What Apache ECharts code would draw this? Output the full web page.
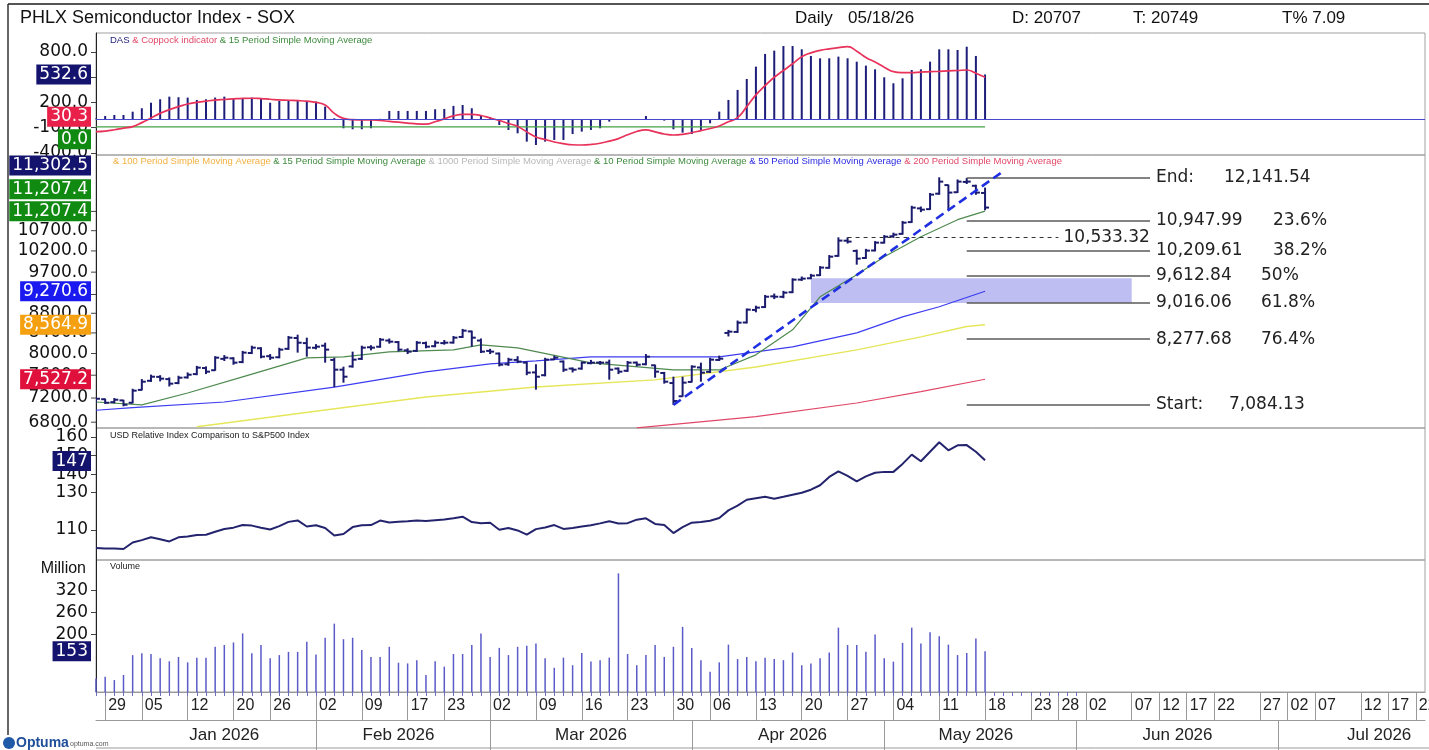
<!DOCTYPE html>
<html>
<head>
<meta charset="utf-8">
<title>PHLX Semiconductor Index - SOX</title>
<script src="https://cdn.jsdelivr.net/npm/echarts@6.0.0/dist/echarts.min.js"></script>
<style>
html, body { margin: 0; padding: 0; background: #fff; }
#main { width: 1429px; height: 750px; }
</style>
</head>
<body>
<div id="main"></div>
<script>
// trading calendar
var holidays = ['2026-01-01', '2026-01-19', '2026-02-16', '2026-04-03'];
// empty future slots on the right, with the date labels Optuma prints there
var futureDays = ['', '', '', '', '23', '', '', '28', '', '', '02', '', '', '', '', '07', '', '', '12', '', '', '17', '', '',
                  '22', '', '', '', '', '27', '', '', '02', '', '', '07', '', '', '', '', '12', '', '', '17', '', '', '22', ''];
var monthNames = ['Jan 2026', 'Feb 2026', 'Mar 2026', 'Apr 2026', 'May 2026', 'Jun 2026', 'Jul 2026'];
var monthMid = [14, 33, 54, 76, 96, 118, 140];
var monthStart = [24, 43, 65, 86, 107, 129];

// price bars
var open = [7150,7180,7130,7160,7120,7340,7500,7570,7530,7460,
  7560,7620,7730,7690,7900,7910,7840,8010,8100,7950,
  7930,8090,8300,8200,8110,8150,7880,7700,7760,7900,
  8120,8130,8250,8220,8060,8050,8200,8140,8200,8210,
  8320,8430,8250,8050,8000,7800,7880,7830,7650,7600,
  7890,7850,7720,7720,7820,7830,7830,7720,7680,7830,
  7800,7780,7640,7460,7230,7480,7740,7660,7880,8400,
  8420,8610,8870,8930,9160,9150,9250,9530,9560,9630,
  9800,10080,10450,10200,10030,10210,10400,10560,10620,10920,
  11280,11260,11680,11920,11720,12010,11900,11700];
var high = [7215,7190,7200,7170,7360,7530,7610,7600,7560,7590,
  7650,7770,7760,7950,7970,7930,8050,8150,8120,7990,
  8110,8340,8365,8306,8180,8208,7922,7755,8036,8150,
  8160,8300,8290,8240,8100,8240,8230,8250,8260,8340,
  8480,8445,8290,8090,8020,7920,7950,7850,7800,7920,
  7960,7870,7740,7850,7880,7860,7885,7740,7860,7850,
  7990,7792,7660,7573,7573,7780,7829,7920,7960,8460,
  8650,8900,8960,9190,9220,9280,9560,9600,9660,9840,
  10100,10533,10533,10231,10250,10440,10590,10650,10950,11350,
  11330,11700,12141.54,11934,12080,12120,11930,11850];
var low = [7120,7100,7110,7060,7110,7330,7480,7490,7400,7440,
  7540,7600,7620,7680,7860,7790,7820,7990,7910,7880,
  7910,8070,8017,7941,8080,7829,7390,7467,7737,7880,
  8060,8110,8190,8040,7990,8030,8100,8120,8170,8190,
  8300,8131,8010,7990,7760,7770,7820,7600,7344,7580,
  7880,7660,7650,7700,7800,7790,7520,7620,7660,7760,
  7780,7555,7450,7084.13,7222,7470,7484,7640,7860,8330,
  8400,8590,8820,8910,9100,9120,9230,9500,9540,9610,
  9780,10060,10380,9873,10010,10190,10380,10520,10600,10900,
  11180,11240,11650,11246,11700,11950,11650,11230];
var close = [7188,7120,7171,7087,7327,7484,7573,7538,7449,7555,
  7609,7737,7664,7922,7922,7829,8017,8112,7941,7922,
  8074,8306,8208,8112,8131,8074,7700,7573,7885,8112,
  8112,8267,8228,8074,8036,8208,8131,8208,8208,8306,
  8445,8306,8036,8036,7792,7885,7848,7646,7573,7885,
  7922,7700,7700,7829,7829,7829,7700,7664,7829,7792,
  7941,7664,7484,7150,7467,7755,7646,7885,7903,8425,
  8606,8876,8918,9152,9152,9240,9529,9552,9620,9805,
  10062,10452,10427,10015,10207,10402,10549,10600,10905,11300,
  11246,11654,12018,11710,12018,12018,11710,11302.5];

// moving averages, read at [day index, value]
var ma15 = [[0,7133],[5,7084],[10,7287],[16,7569],[23,7918],[27,7936],[32,8031],[39,8069],[42,8166],[46,8107],
  [54,7824],[63,7695],[68,7695],[72,7975],[76,8461],[79,9150],[83,9640],[86,10060],[90,10549],[94,10983],[97,11207.4]];
var ma50 = [[0,6995],[4,7038],[14,7133],[26,7390],[36,7659],[43,7806],[48,7861],[54,7936],[68,7936],[76,8127],
  [83,8401],[88,8726],[92,8936],[97,9270.6]];
var ma100 = [[11,6727],[25,6999],[36,7218],[48,7390],[61,7516],[72,7750],[83,8069],[90,8322],[95,8528],[97,8564.9]];
var ma200 = [[59,6710],[72,6889],[83,7116],[90,7309],[97,7527.2]];
var trend = [[63,7084.13],[99,12320]];

// fibonacci retracement
var fibValues = [12141.54, 10947.99, 10209.61, 9612.84, 9016.06, 8277.68, 7084.13];
var fibLeft = ['End:', '10,947.99', '10,209.61', '9,612.84', '9,016.06', '8,277.68', 'Start:'];
var fibRight = ['12,141.54', '23.6%', '38.2%', '50%', '61.8%', '76.4%', '7,084.13'];
var midLevel = 10533.32;

// DAS histogram and Coppock
var das = [10,39,51,51,90,131,197,238,269,262,
  258,230,238,258,269,250,250,258,250,197,
  218,222,230,210,210,151,12,-107,-119,-119,
  -107,5,99,99,99,99,99,119,123,159,
  170,131,40,24,-68,-127,-167,-266,-306,-266,
  -246,-246,-175,-147,-127,-107,-28,0,0,0,
  39,0,-16,-119,-159,-175,-127,-48,91,230,
  349,479,626,777,816,871,871,832,753,725,
  725,745,725,685,638,594,499,428,487,586,
  594,685,832,832,824,863,753,532.6];
var coppock = [-147,-140,-125,-105,-88,-40,15,70,115,150,
  182,200,215,228,235,242,248,250,246,238,
  230,226,222,215,200,170,70,10,-5,-8,
  -8,-15,-25,-35,-45,-55,-58,-30,5,40,
  58,58,45,15,-15,-50,-85,-150,-210,-240,
  -270,-290,-303,-306,-300,-285,-260,-230,-185,-145,
  -127,-150,-175,-187,-180,-160,-135,-110,-80,-30,
  20,150,290,400,500,580,660,744,790,820,
  838,852,863,810,735,680,620,566,555,554,
  560,566,570,575,580,586,547,499];
var dasAvg = [[0,-90],[97,-90]];

// relative strength vs S&P500
var relative = [100.2,100.0,100.0,99.7,103.2,104.5,106.0,105.0,103.8,106.0,
  106.5,107.3,107.4,109.0,110.5,111.2,112.6,112.3,111.2,110.2,
  112.0,114.3,115.1,111.8,112.5,111.0,107.0,107.8,111.5,112.5,
  112.6,115.0,114.0,114.4,114.6,115.0,114.8,115.2,115.6,116.3,
  117.1,114.2,113.6,113.8,110.1,111.0,109.7,107.4,110.4,111.3,
  112.6,110.5,111.0,111.8,112.5,113.5,114.6,113.4,113.6,115.5,
  116.2,113.2,112.6,108.3,111.5,113.9,114.2,114.9,116.4,120.5,
  123.0,126.2,127.0,127.8,126.8,127.8,128.9,130.0,131.6,134.0,
  138.5,141.5,139.0,136.1,138.8,140.7,141.2,141.2,145.5,150.5,
  146.9,152.0,157.1,152.8,155.5,155.6,152.0,147.4];

// volume, million
var volume = [77,82,73,87,142,147,145,133,125,137,
  122,135,135,165,170,177,202,147,170,133,
  142,151,151,179,144,190,229,186,190,156,
  137,137,165,121,119,128,87,125,110,145,
  145,170,202,137,162,142,165,168,174,133,
  107,135,114,148,124,128,135,368,145,114,
  142,170,137,165,220,162,128,96,122,171,
  131,137,125,135,131,128,149,114,119,133,
  149,218,170,170,151,199,133,124,176,218,
  174,205,194,171,142,148,188,153];

var priceTicks = [6800, 7200, 7600, 8000, 8400, 8800, 9200, 9700, 10200, 10700, 11200];

var NUM = 'DejaVu Sans';
var TXT = 'Liberation Sans';

function tradingDays(start, end, skip) {
  var out = [];
  var d = new Date(start + 'T00:00:00Z');
  var e = new Date(end + 'T00:00:00Z');
  while (d <= e) {
    var wd = d.getUTCDay();
    var s = d.toISOString().slice(0, 10);
    if (wd !== 0 && wd !== 6 && skip.indexOf(s) < 0) out.push(s);
    d.setUTCDate(d.getUTCDate() + 1);
  }
  return out;
}
var dates = tradingDays('2025-12-26', '2026-05-18', holidays);
var cats = dates.concat(futureDays.map(function (s, k) { return 'f' + k; }));

function weekday(i) { return new Date(dates[i] + 'T00:00:00Z').getUTCDay(); }
function isDayTick(i) {
  if (i < dates.length) return i > 0 && weekday(i) < weekday(i - 1);
  return futureDays[i - dates.length] !== '';
}
function dayText(i) { return i < dates.length ? dates[i].slice(8) : futureDays[i - dates.length]; }

var ohlc = close.map(function (c, i) { return [i, open[i], high[i], low[i], c]; });

function renderOhlc(params, api) {
  var i = api.value(0);
  var pO = api.coord([i, api.value(1)]);
  var pH = api.coord([i, api.value(2)]);
  var pL = api.coord([i, api.value(3)]);
  var pC = api.coord([i, api.value(4)]);
  var x = pO[0];
  var st = { stroke: '#1b1b6e', lineWidth: 2 };
  return {
    type: 'group',
    children: [
      { type: 'line', shape: { x1: x, y1: pH[1], x2: x, y2: pL[1] }, style: st },
      { type: 'line', shape: { x1: x - 4, y1: pO[1], x2: x, y2: pO[1] }, style: st },
      { type: 'line', shape: { x1: x, y1: pC[1], x2: x + 4, y2: pC[1] }, style: st }
    ]
  };
}

function baseX(grid, extra) {
  var a = {
    type: 'category', gridIndex: grid, data: cats, boundaryGap: false,
    axisLine: { show: false }, axisTick: { show: false }, axisLabel: { show: false }, splitLine: { show: false }
  };
  for (var k in extra) a[k] = extra[k];
  return a;
}

function valY(grid, min, max, ticks, dec) {
  return {
    type: 'value', gridIndex: grid, min: min, max: max,
    axisLine: { show: true, lineStyle: { color: '#222' } },
    axisTick: { show: true, customValues: ticks, length: 5, lineStyle: { color: '#444' } },
    axisLabel: {
      customValues: ticks, fontFamily: NUM, fontSize: 17, color: '#111', margin: 8,
      formatter: function (v) { return Number(v).toFixed(dec); }
    },
    splitLine: { show: false }
  };
}

var grids = [
  { top: 33, height: 122 },
  { top: 155, height: 273 },
  { top: 428, height: 132 },
  { top: 560, height: 132 }
].map(function (g) {
  g.left = 96; g.right = 4; g.show = true; g.borderColor = '#a0a0a0'; g.borderWidth = 1;
  g.containLabel = false; g.outerBoundsMode = 'none';
  return g;
});

var fibRich = { v: { fontFamily: NUM, fontSize: 17, color: '#222' } };
var fibWidth = [68, 117, 117, 105, 105, 105, 73];
fibWidth.forEach(function (w, i) { fibRich['k' + i] = { width: w, fontFamily: NUM, fontSize: 17, color: '#222' }; });

var option = {
  animation: false,
  backgroundColor: '#fff',
  grid: grids,
  xAxis: [
    baseX(0, {}),
    baseX(1, {}),
    baseX(2, {}),
    baseX(3, {
      position: 'bottom',
      axisLine: { show: true, lineStyle: { color: '#999' } },
      axisTick: { show: true, interval: function (i) { return isDayTick(i); }, length: 28, lineStyle: { color: '#999' } },
      axisLabel: {
        show: true, interval: function (i) { return isDayTick(i); },
        formatter: function (v, i) { return dayText(i); },
        align: 'left', padding: [0, 0, 0, 3], margin: 6,
        fontFamily: TXT, fontSize: 16, color: '#222'
      }
    }),
    baseX(3, {
      position: 'bottom', offset: 28,
      axisLine: { show: true, lineStyle: { color: '#999' } },
      axisTick: { show: true, interval: function (i) { return monthStart.indexOf(i) >= 0; }, length: 30, lineStyle: { color: '#999' } },
      axisLabel: {
        show: true, interval: function (i) { return monthMid.indexOf(i) >= 0; },
        formatter: function (v, i) { return monthNames[monthMid.indexOf(i)]; },
        margin: 7, fontFamily: TXT, fontSize: 17, color: '#222'
      }
    }),
    baseX(3, {
      position: 'bottom', offset: 0,
      axisTick: { show: true, interval: function (i) { return i < 108; }, length: 4, lineStyle: { color: '#7070b8' } }
    })
  ],
  yAxis: [
    valY(0, -425, 1026, [-400, -100, 200, 500, 800], 1),
    {
      type: 'log', gridIndex: 1, min: 6707, max: 12800,
      axisLine: { show: true, lineStyle: { color: '#222' } },
      axisTick: { show: false }, axisLabel: { show: false }, splitLine: { show: false }
    },
    valY(2, 93.8, 164.8, [110, 130, 140, 150, 160], 0),
    valY(3, 40, 405, [200, 260, 320], 0)
  ],
  series: [
    {
      type: 'bar', xAxisIndex: 0, yAxisIndex: 0, data: das, barWidth: 2,
      itemStyle: { color: '#1d1d7a' },
      markLine: {
        silent: true, symbol: ['none', 'none'], label: { show: false },
        lineStyle: { color: '#4a4ad0', width: 1.2, type: 'solid' },
        data: [{ yAxis: 0 }]
      }
    },
    {
      type: 'line', xAxisIndex: 0, yAxisIndex: 0, data: dasAvg, symbol: 'none',
      lineStyle: { color: '#44a044', width: 1.3 }
    },
    {
      type: 'line', xAxisIndex: 0, yAxisIndex: 0, data: coppock, symbol: 'none', smooth: true,
      lineStyle: { color: '#e8325a', width: 1.7 }
    },
    {
      type: 'line', xAxisIndex: 1, yAxisIndex: 1, data: ma200, symbol: 'none', z: 3,
      lineStyle: { color: '#e04868', width: 1.2 },
      markLine: {
        silent: true, symbol: ['none', 'none'],
        lineStyle: { color: '#5a5a5a', width: 1.5, type: 'solid' },
        label: {
          show: true, position: 'end', distance: 6, rich: fibRich,
          formatter: function (p) { return '{k' + p.dataIndex + '|' + fibLeft[p.dataIndex] + '}{v|' + fibRight[p.dataIndex] + '}'; }
        },
        data: fibValues.map(function (v) { return [{ coord: [95, v] }, { coord: [115, v] }]; })
      }
    },
    {
      type: 'line', xAxisIndex: 1, yAxisIndex: 1, data: ma100, symbol: 'none', z: 3,
      lineStyle: { color: '#e6e65a', width: 1.4 }
    },
    {
      type: 'line', xAxisIndex: 1, yAxisIndex: 1, data: ma50, symbol: 'none', z: 3,
      lineStyle: { color: '#3c3cf0', width: 1.2 },
      markArea: {
        silent: true, itemStyle: { color: 'rgba(125,125,232,0.5)' },
        data: [[{ coord: [78, 9560] }, { coord: [113, 9016.06] }]]
      }
    },
    {
      type: 'line', xAxisIndex: 1, yAxisIndex: 1, data: ma15, symbol: 'none', z: 3,
      lineStyle: { color: '#4f8a4f', width: 1.2 }
    },
    {
      type: 'custom', xAxisIndex: 1, yAxisIndex: 1, data: ohlc, clip: true, z: 4,
      encode: { x: 0, y: [1, 2, 3, 4] }, renderItem: renderOhlc
    },
    {
      type: 'line', xAxisIndex: 1, yAxisIndex: 1, data: trend, symbol: 'none', z: 5,
      lineStyle: { color: '#2030e0', width: 2.6, type: [9, 5] },
      markLine: {
        silent: true, symbol: ['none', 'none'],
        lineStyle: { color: '#333', width: 1, type: [4, 4] },
        label: { show: true, position: 'end', distance: 5, fontFamily: NUM, fontSize: 17, color: '#222', formatter: '10,533.32' },
        data: [[{ coord: [82, midLevel] }, { coord: [105, midLevel] }]]
      }
    },
    {
      type: 'line', xAxisIndex: 2, yAxisIndex: 2, data: relative, symbol: 'none',
      lineStyle: { color: '#24246e', width: 2 }
    },
    {
      type: 'bar', xAxisIndex: 3, yAxisIndex: 3, data: volume, barWidth: 1.5,
      itemStyle: { color: '#5a5ac8' }
    }
  ]
};

var chart = echarts.init(document.getElementById('main'));
chart.setOption(option);

function txt(x, y, text, size, color, extra) {
  var st = { text: text, fontSize: size, fontFamily: TXT, fill: color || '#111', verticalAlign: 'middle' };
  for (var k in extra) st[k] = extra[k];
  return { type: 'text', x: x, y: y, z: 50, style: st };
}
function ln(x1, y1, x2, y2, color, w) {
  return { type: 'line', z: 50, shape: { x1: x1, y1: y1, x2: x2, y2: y2 }, style: { stroke: color, lineWidth: w } };
}

var legendRich = {
  o: { fill: '#f0b040', fontSize: 9.5, fontFamily: TXT },
  g: { fill: '#3c8a3c', fontSize: 9.5, fontFamily: TXT },
  s: { fill: '#b8b8b8', fontSize: 9.5, fontFamily: TXT },
  b: { fill: '#2a2ae0', fontSize: 9.5, fontFamily: TXT },
  r: { fill: '#e04868', fontSize: 9.5, fontFamily: TXT },
  n: { fill: '#1d1d7a', fontSize: 9.5, fontFamily: TXT }
};

var graphics = [
  ln(8, 4, 1429, 4, '#555', 2),
  ln(8, 4, 8, 735, '#333', 1.5),
  ln(96, 748, 1429, 748, '#999', 1),
  txt(20, 18, 'PHLX Semiconductor Index - SOX', 18),
  txt(795, 18, 'Daily', 17),
  txt(848, 18, '05/18/26', 17),
  txt(1012, 18, 'D: 20707', 17),
  txt(1133, 18, 'T: 20749', 17),
  txt(1282, 18, 'T% 7.09', 17),
  txt(110, 40, '', 9.5, '#111', {
    text: '{n|DAS }{r|& Coppock indicator }{g|& 15 Period Simple Moving Average}', rich: legendRich
  }),
  txt(113, 161, '', 9.5, '#111', {
    text: '{o|& 100 Period Simple Moving Average }{g|& 15 Period Simple Moving Average }{s|& 1000 Period Simple Moving Average }' +
      '{g|& 10 Period Simple Moving Average }{b|& 50 Period Simple Moving Average }{r|& 200 Period Simple Moving Average}',
    rich: legendRich
  }),
  txt(110, 436, 'USD Relative Index Comparison to S&P500 Index', 9, '#222'),
  txt(110, 567, 'Volume', 9, '#222'),
  txt(86, 569, 'Million', 16, '#111', { align: 'right' }),
  { type: 'circle', z: 50, shape: { cx: 9, cy: 743, r: 6 }, style: { fill: '#1f5aa8' } },
  txt(16, 743, 'Optuma', 14, '#1f4e9a', { fontWeight: 'bold' }),
  txt(70, 744, 'optuma.com', 7, '#555')
];

// price axis labels on the log scale
priceTicks.forEach(function (v) {
  var y = chart.convertToPixel({ yAxisIndex: 1 }, v);
  graphics.push({ type: 'text', x: 88, y: y, z: 40, style: { text: v.toFixed(1), fontSize: 17, fontFamily: NUM, fill: '#111', align: 'right', verticalAlign: 'middle' } });
  graphics.push(ln(91, y, 96, y, '#444', 1));
});

// value tags on the left
var tags = [
  { axis: 0, value: 532.6, text: '532.6', color: '#14146e', dy: 0 },
  { axis: 0, value: 30.3, text: '30.3', color: '#e8204a', dy: 0 },
  { axis: 0, value: 0, text: '0.0', color: '#118a11', dy: 20 },
  { axis: 1, value: 11302.5, text: '11,302.5', color: '#14146e', dy: -42 },
  { axis: 1, value: 11207.4, text: '11,207.4', color: '#118a11', dy: -22 },
  { axis: 1, value: 11207.4, text: '11,207.4', color: '#118a11', dy: 0 },
  { axis: 1, value: 9270.6, text: '9,270.6', color: '#1a1af0', dy: 0 },
  { axis: 1, value: 8564.9, text: '8,564.9', color: '#f5a010', dy: 0 },
  { axis: 1, value: 7527.2, text: '7,527.2', color: '#e0103c', dy: 0 },
  { axis: 2, value: 147, text: '147', color: '#14146e', dy: 0 },
  { axis: 3, value: 153, text: '153', color: '#14146e', dy: 0 }
];
tags.forEach(function (t) {
  var y = chart.convertToPixel({ yAxisIndex: t.axis }, t.value) + t.dy;
  graphics.push({
    type: 'text', x: 91, y: y, z: 100,
    style: {
      text: t.text, fill: '#fff', fontSize: 17, fontFamily: NUM, align: 'right', verticalAlign: 'middle',
      backgroundColor: t.color, padding: [2, 3, 1, 3]
    }
  });
});

chart.setOption({ graphic: graphics });
</script>
</body>
</html>
